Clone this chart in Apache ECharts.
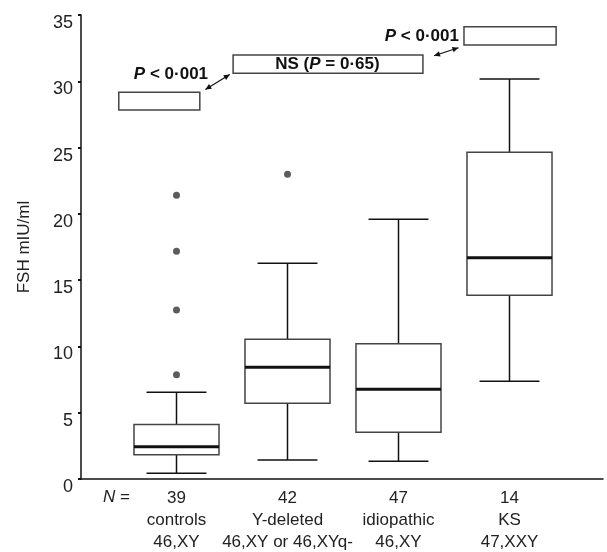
<!DOCTYPE html>
<html>
<head>
<meta charset="utf-8">
<script src="https://cdn.jsdelivr.net/npm/echarts@6/dist/echarts.min.js"></script>
<style>
  html, body { margin: 0; padding: 0; background: #fff; }
  #chart { width: 607px; height: 552px; }
</style>
</head>
<body>
<div id="chart"></div>
<script>
// groups along the x axis
const counts = ['39', '42', '47', '14'];
const groups = ['controls', 'Y-deleted', 'idiopathic', 'KS'];
const karyotypes = ['46,XY', '46,XY or 46,XYq-', '46,XY', '47,XXY'];

// FSH (mIU/ml) box statistics per group
const whiskerLow = [0.43, 1.43, 1.33, 7.37];
const q1 = [1.83, 5.71, 3.52, 13.86];
const median = [2.44, 8.43, 6.77, 16.69];
const q3 = [4.12, 10.54, 10.21, 24.64];
const whiskerHigh = [6.54, 16.27, 19.59, 30.17];

// outliers: [group index, FSH]
const outliers = [[0, 21.4], [0, 17.18], [0, 12.75], [0, 7.87], [1, 22.98]];

// y axis
const yTicks = [0, 5, 10, 15, 20, 25, 30, 35];

// comparison annotations, in group units (x) and FSH units (y)
const pBoxes = [[-0.52, 0.21, 29.17, 27.83], [0.51, 2.22, 31.98, 30.6], [2.59, 3.42, 34.12, 32.74]];
const pLabels = [[-0.05, 30.5, '{i|P} < 0·001'], [1.36, 31.3, 'NS ({i|P} = 0·65)'], [2.21, 33.4, '{i|P} < 0·001']];
const pArrows = [[0.26, 29.38, 0.48, 30.51], [2.32, 31.93, 2.54, 32.53]];

const FONT = '"Liberation Sans", Arial, sans-serif';
const boxRows = groups.map((g, i) => [i, whiskerLow[i], q1[i], median[i], q3[i], whiskerHigh[i]]);

function renderBox(params, api) {
    const i = api.value(0);
    const band = api.size([1, 0])[0];
    const bw = band * 0.766, cw = band * 0.54;
    const x = api.coord([i, 0])[0];
    const y = v => api.coord([i, v])[1];
    const lo = y(api.value(1)), b1 = y(api.value(2)), md = y(api.value(3)), b3 = y(api.value(4)), hi = y(api.value(5));
    const line = (x1, y1, x2, y2, w, c) => ({
        type: 'line', shape: { x1: x1, y1: y1, x2: x2, y2: y2 },
        style: { stroke: c || '#111', lineWidth: w || 1.5 }
    });
    return {
        type: 'group',
        children: [
            line(x, hi, x, b3),
            line(x, b1, x, lo),
            line(x - cw / 2, hi, x + cw / 2, hi),
            line(x - cw / 2, lo, x + cw / 2, lo),
            { type: 'rect', shape: { x: x - bw / 2, y: b3, width: bw, height: b1 - b3 },
              style: { fill: '#fff', stroke: '#444', lineWidth: 1.5 } },
            line(x - bw / 2, md, x + bw / 2, md, 3, '#111')
        ]
    };
}

function arrowHead(tip, from) {
    const dx = tip[0] - from[0], dy = tip[1] - from[1];
    const len = Math.sqrt(dx * dx + dy * dy);
    const ux = dx / len, uy = dy / len;
    const hl = 6, hw = 2.8;
    const bx = tip[0] - ux * hl, by = tip[1] - uy * hl;
    return {
        type: 'polygon',
        shape: { points: [tip, [bx - uy * hw, by + ux * hw], [bx + uy * hw, by - ux * hw]] },
        style: { fill: '#111' }
    };
}

function renderNotes(params, api) {
    const children = [];
    pBoxes.forEach(b => {
        const p0 = api.coord([b[0], b[2]]);
        const p1 = api.coord([b[1], b[3]]);
        children.push({ type: 'rect', shape: { x: p0[0], y: p0[1], width: p1[0] - p0[0], height: p1[1] - p0[1] },
            style: { fill: '#fff', stroke: '#444', lineWidth: 1.5 } });
    });
    pLabels.forEach(l => {
        const p = api.coord([l[0], l[1]]);
        children.push({ type: 'text', x: p[0], y: p[1],
            style: { text: l[2], align: 'center', verticalAlign: 'middle', fill: '#111',
                font: 'bold 17px ' + FONT,
                rich: { i: { fontStyle: 'italic', fontWeight: 'bold', fontSize: 17, fontFamily: FONT, fill: '#111' } } } });
    });
    pArrows.forEach(a => {
        const p0 = api.coord([a[0], a[1]]);
        const p1 = api.coord([a[2], a[3]]);
        children.push({ type: 'line', shape: { x1: p0[0], y1: p0[1], x2: p1[0], y2: p1[1] },
            style: { stroke: '#111', lineWidth: 1.2 } });
        children.push(arrowHead(p0, p1), arrowHead(p1, p0));
    });
    return { type: 'group', children: children };
}

const chart = echarts.init(document.getElementById('chart'), null, { renderer: 'canvas' });
chart.setOption({
    animation: false,
    backgroundColor: '#fff',
    textStyle: { fontFamily: FONT },
    grid: [
        { left: 81, right: 4, top: 15, bottom: 73 },
        { left: 121, width: 444, top: 15, bottom: 73 }
    ],
    xAxis: [
        { gridIndex: 0, type: 'value', min: 0, max: 1,
          axisLine: { show: true, lineStyle: { color: '#111', width: 1.5 } },
          axisTick: { show: false }, axisLabel: { show: false }, splitLine: { show: false } },
        { gridIndex: 1, type: 'category', data: groups,
          axisLine: { show: false }, axisTick: { show: false }, splitLine: { show: false },
          axisLabel: {
              interval: 0, margin: 8, color: '#222',
              formatter: (v, i) => '{a|' + counts[i] + '}\n{a|' + groups[i] + '}\n{a|' + karyotypes[i] + '}',
              rich: { a: { fontSize: 17, lineHeight: 22, fontFamily: FONT, color: '#222', align: 'center' } }
          } },
        { gridIndex: 1, type: 'value', min: -0.5, max: 3.5, show: false }
    ],
    yAxis: [
        { gridIndex: 0, type: 'value', min: yTicks[0], max: yTicks[yTicks.length - 1], interval: 5,
          name: 'FSH mIU/ml', nameLocation: 'middle', nameGap: 48,
          nameTextStyle: { fontSize: 17, color: '#222', fontFamily: FONT },
          axisLine: { show: true, lineStyle: { color: '#111', width: 1.5 } },
          axisTick: { show: true, length: 3, lineStyle: { color: '#111', width: 2 } },
          axisLabel: { fontSize: 18, color: '#222', margin: 8, verticalAlign: 'top', lineHeight: 16 },
          splitLine: { show: false } },
        { gridIndex: 1, type: 'value', min: yTicks[0], max: yTicks[yTicks.length - 1], show: false }
    ],
    graphic: [
        { type: 'text', x: 103, y: 497.5,
          style: { text: '{i|N} =', verticalAlign: 'middle', font: '17px ' + FONT, fill: '#222',
                   rich: { i: { fontStyle: 'italic', fontSize: 17, fontFamily: FONT, fill: '#222' } } } }
    ],
    series: [
        { type: 'custom', xAxisIndex: 2, yAxisIndex: 1, data: boxRows, renderItem: renderBox,
          encode: { x: 0, y: [1, 2, 3, 4, 5] }, clip: false, silent: true },
        { type: 'scatter', xAxisIndex: 2, yAxisIndex: 1, data: outliers, symbolSize: 7,
          itemStyle: { color: '#333' }, silent: true },
        { type: 'custom', xAxisIndex: 2, yAxisIndex: 1, data: [[0, 0]], renderItem: renderNotes,
          clip: false, silent: true, z: 5 }
    ]
});
</script>
</body>
</html>
